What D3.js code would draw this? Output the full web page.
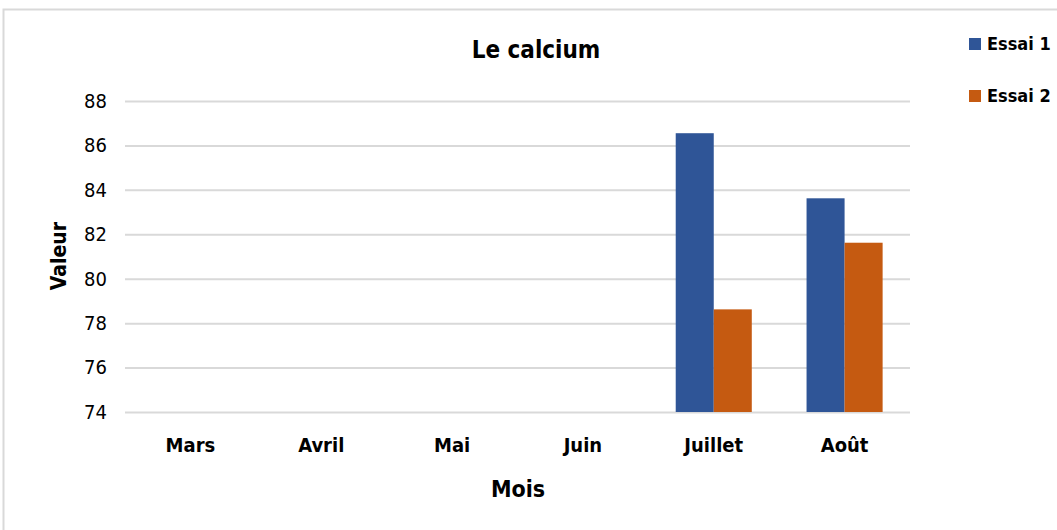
<!DOCTYPE html>
<html>
<head>
<meta charset="utf-8">
<script src="https://cdn.jsdelivr.net/npm/d3@7"></script>
<style>
  body { margin: 0; background: #fff; }
  text { font-family: "DejaVu Sans Condensed", "Liberation Sans", sans-serif; fill: #000; }
</style>
</head>
<body>
<svg width="1057" height="530"></svg>
<script>
// data
var months = ["Mars", "Avril", "Mai", "Juin", "Juillet", "Août"];
var seriesNames = ["Essai 1", "Essai 2"];
var essai1 = [null, null, null, null, 86.55, 83.62];
var essai2 = [null, null, null, null, 78.62, 81.62];
var yTicks = [74, 76, 78, 80, 82, 84, 86, 88];
var colors = ["#2F5597", "#C55A11"];

var svg = d3.select("svg");

// outer chart frame
svg.append("rect")
    .attr("x", 3.5).attr("y", 9.5)
    .attr("width", 1100).attr("height", 600)
    .attr("fill", "none")
    .attr("stroke", "#D9D9D9")
    .attr("stroke-width", 2);

var x = d3.scaleBand().domain(months).range([125, 910]).paddingInner(0).paddingOuter(0);
var y = d3.scaleLinear().domain([74, 88]).range([412, 101]);
var xs = d3.scaleBand().domain(seriesNames).range([0, x.bandwidth()]).paddingInner(0).paddingOuter(0.72);

// grid lines
var yAxis = d3.axisLeft(y).tickValues(yTicks).tickSize(-(910 - 125)).tickPadding(18);
var ga = svg.append("g").attr("transform", "translate(125,0)").call(yAxis);
ga.select(".domain").remove();
ga.selectAll(".tick line").attr("stroke", "#D9D9D9").attr("stroke-width", 2);
ga.selectAll(".tick text")
    .attr("font-size", 20)
    .attr("font-family", "'Open Sans', sans-serif")
    .attr("fill", "#404040");

// bars
var rows = months.map(function(m, i) { return { month: m, vals: [essai1[i], essai2[i]] }; });
var groups = svg.append("g").selectAll("g").data(rows).join("g")
    .attr("transform", function(d) { return "translate(" + x(d.month) + ",0)"; });
groups.selectAll("rect")
    .data(function(d) {
        return d.vals.map(function(v, k) { return { name: seriesNames[k], v: v, k: k }; })
            .filter(function(e) { return e.v != null; });
    })
    .join("rect")
    .attr("x", function(d) { return xs(d.name); })
    .attr("width", xs.bandwidth())
    .attr("y", function(d) { return y(d.v); })
    .attr("height", function(d) { return y(74) - y(d.v); })
    .attr("fill", function(d) { return colors[d.k]; });

// category labels
var xAxis = d3.axisBottom(x).tickSize(0).tickPadding(26);
var gx = svg.append("g").attr("transform", "translate(0,412)").call(xAxis);
gx.select(".domain").remove();
gx.selectAll(".tick text")
    .attr("font-size", 20)
    .attr("font-weight", "bold")
    .attr("font-family", "'DejaVu Sans Condensed', sans-serif")
    .attr("fill", "#000");

// title
svg.append("text")
    .attr("x", 536).attr("y", 58)
    .attr("text-anchor", "middle")
    .attr("font-size", 24)
    .attr("font-weight", "bold")
    .text("Le calcium");

// axis titles
svg.append("text")
    .attr("x", 518).attr("y", 497)
    .attr("text-anchor", "middle")
    .attr("font-size", 23)
    .attr("font-weight", "bold")
    .text("Mois");

svg.append("text")
    .attr("transform", "translate(66,256) rotate(-90)")
    .attr("text-anchor", "middle")
    .attr("font-size", 21)
    .attr("font-weight", "bold")
    .attr("font-family", "'Liberation Sans', sans-serif")
    .text("Valeur");

// legend
var legend = svg.append("g").selectAll("g").data(seriesNames).join("g")
    .attr("transform", function(d, i) { return "translate(969," + (38 + i * 52) + ")"; });
legend.append("rect")
    .attr("width", 12).attr("height", 12)
    .attr("fill", function(d, i) { return colors[i]; });
legend.append("text")
    .attr("x", 18).attr("y", 12)
    .attr("font-size", 18)
    .attr("font-weight", "bold")
    .text(function(d) { return d; });
</script>
</body>
</html>
